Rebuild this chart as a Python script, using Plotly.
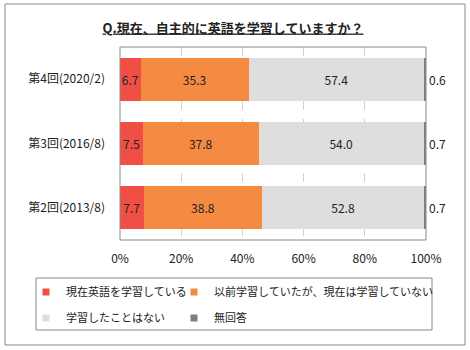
import plotly.graph_objects as go

categories = ["第4回(2020/2)", "第3回(2016/8)", "第2回(2013/8)"]
series_names = ["現在英語を学習している", "以前学習していたが、現在は学習していない", "学習したことはない", "無回答"]
current = [6.7, 7.5, 7.7]
previous = [35.3, 37.8, 38.8]
never = [57.4, 54.0, 52.8]
no_answer = [0.6, 0.7, 0.7]
tick_vals = [0, 20, 40, 60, 80, 100]
tick_text = ["0%", "20%", "40%", "60%", "80%", "100%"]

colors = ["#f14f45", "#f58a42", "#dedede", "#7f7f7f"]
values = [current, previous, never, no_answer]
FONT = "Noto Sans CJK JP, Noto Sans, sans-serif"

W, H = 470, 350
L, R, T, B = 120, 44, 47, 110
pw, ph = W - L - R, H - T - B

def px(x):
    return (x - L) / pw

def py(y):
    return (H - B - y) / ph

legend_names = ["legend", "legend2", "legend3", "legend4"]
legend_pos = [(26, 292), (174, 292), (26, 318), (174, 318)]

fig = go.Figure()
for i, (name, vals, col) in enumerate(zip(series_names, values, colors)):
    last = i == 3
    fig.add_trace(go.Bar(
        y=categories, x=vals, orientation="h", name=name,
        marker=dict(color=col, line=dict(width=0)),
        text=[f"{v:.1f}" for v in vals],
        textposition="outside" if last else "inside",
        insidetextanchor="middle",
        textangle=0,
        cliponaxis=False,
        textfont=dict(size=12, color="#222222", family=FONT),
        showlegend=False, width=0.67,
    ))
    fig.add_trace(go.Scatter(
        x=[None], y=[None], mode="markers", name=name,
        marker=dict(symbol="square", size=7, color=col),
        legend=legend_names[i],
    ))

legends = {}
for ln, (lx, ly) in zip(legend_names, legend_pos):
    legends[ln] = dict(orientation="h", x=px(lx), xanchor="left", y=py(ly), yanchor="middle",
                       bgcolor="rgba(0,0,0,0)", font=dict(size=11, family=FONT),
                       itemclick=False, itemdoubleclick=False)

fig.update_layout(
    width=W, height=H, barmode="stack", bargap=0.33,
    margin=dict(l=L, r=R, t=T, b=B, autoexpand=False),
    paper_bgcolor="white", plot_bgcolor="white",
    font=dict(family=FONT, size=12, color="#222222"),
    title=dict(text="<u><b>Q.現在、自主的に英語を学習していますか？</b></u>",
               x=233 / W, xanchor="center", y=1 - 28 / H, yanchor="middle",
               font=dict(size=13, color="#222222", family=FONT)),
    uniformtext=dict(minsize=12, mode="show"),
    shapes=[
        dict(type="rect", xref="paper", yref="paper", x0=0, x1=1, y0=0, y1=1,
             line=dict(color="#888888", width=1), layer="above"),
        dict(type="rect", xref="paper", yref="paper", x0=px(36), x1=px(432), y0=py(278), y1=py(330),
             line=dict(color="#888888", width=1)),
        dict(type="rect", xref="paper", yref="paper", x0=px(5), x1=px(465), y0=py(4), y1=py(345),
             line=dict(color="#888888", width=1)),
    ],
    **legends,
)
fig.update_xaxes(range=[0, 100], tickvals=tick_vals, ticktext=tick_text,
                 showgrid=True, gridcolor="#d0d0d0", griddash="dash", gridwidth=1,
                 zeroline=False, ticks="", ticklabelstandoff=10,
                 tickfont=dict(size=12, family=FONT))
fig.update_yaxes(categoryorder="array", categoryarray=categories, autorange="reversed",
                 ticks="", ticklabelstandoff=14, showgrid=False,
                 tickfont=dict(size=12, family=FONT))

fig.write_html("out.html")
